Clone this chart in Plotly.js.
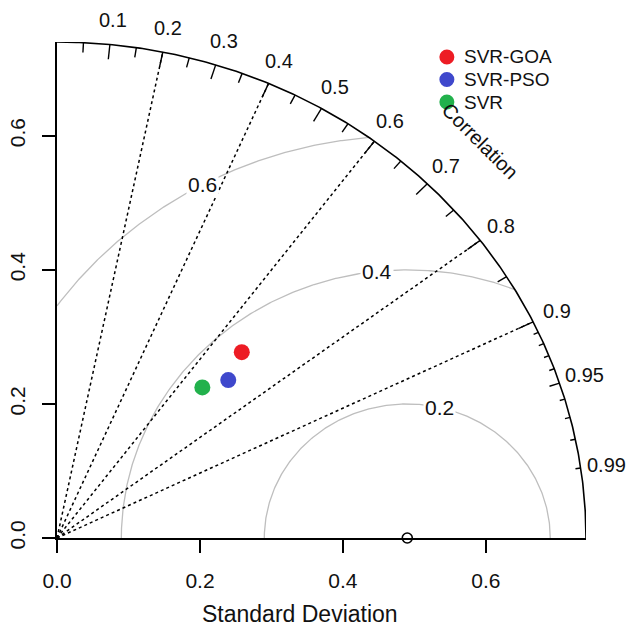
<!DOCTYPE html>
<html><head><meta charset="utf-8">
<script src="https://cdn.plot.ly/plotly-3.0.1.min.js"></script>
<style>html,body{margin:0;padding:0;background:#fff}</style>
</head><body><div id="chart" style="width:628px;height:628px"></div>
<script>
// ---- data ----
const models = ['SVR-GOA', 'SVR-PSO', 'SVR'];
const modelSD = [0.379, 0.336, 0.303];
const modelCorr = [0.682, 0.713, 0.671];
const modelColors = ['#ED1C24', '#3F48CC', '#22B14C'];
const refSD = 0.49;
const maxSD = 0.74;
const rmsLevels = [0.2, 0.4, 0.6];
const rmsLabelAngles = [77, 96, 118.5];
const corrLines = [0.2, 0.4, 0.6, 0.8, 0.9];
const corrLabels = [0.1, 0.2, 0.3, 0.4, 0.5, 0.6, 0.7, 0.8, 0.9, 0.95, 0.99];
const bigTicks = [0.1, 0.2, 0.3, 0.4, 0.5, 0.6, 0.7, 0.8, 0.9];
const medTicks = [0.05, 0.15, 0.25, 0.35, 0.45, 0.55, 0.65, 0.75, 0.85, 0.95];
const smlTicks = [0.91, 0.92, 0.93, 0.94, 0.96, 0.97, 0.98, 0.99];
const sdTicks = [0, 0.2, 0.4, 0.6];
const sdTickText = ['0.0', '0.2', '0.4', '0.6'];

const FONT = 'Arial, "Liberation Sans", sans-serif';
const TXT = '#111';
const traces = [];
const annotations = [];
const shapes = [];
// data -> paper (axes span [0, maxSD] on both)
const px = v => v / maxSD;

// RMS contours (gray arcs around the reference point)
rmsLevels.forEach((r, k) => {
  let th0 = 0;
  if (refSD + r > maxSD) {
    const xo = (maxSD * maxSD - r * r + refSD * refSD) / (2 * refSD);
    const yo = Math.sqrt(maxSD * maxSD - xo * xo);
    th0 = Math.atan2(yo, xo - refSD);
  }
  const th1 = (refSD - r >= 0) ? Math.PI : Math.acos(-refSD / r);
  const xs = [], ys = [];
  const n = 300;
  for (let i = 0; i <= n; i++) {
    const t = th0 + (th1 - th0) * i / n;
    xs.push(refSD + r * Math.cos(t));
    ys.push(r * Math.sin(t));
  }
  traces.push({x: xs, y: ys, mode: 'lines', line: {color: '#BEBEBE', width: 1.3}, hoverinfo: 'skip', showlegend: false});
  const a = rmsLabelAngles[k] * Math.PI / 180;
  annotations.push({x: px(refSD + r * Math.cos(a)), y: px(r * Math.sin(a)), xref: 'paper', yref: 'paper',
    xanchor: 'center', yanchor: 'middle', text: String(r),
    showarrow: false, bgcolor: '#ffffff', borderpad: 1, font: {size: 21, color: TXT, family: FONT}});
});

// dotted correlation lines
{
  const xs = [], ys = [];
  corrLines.forEach(c => { xs.push(0, maxSD * c, null); ys.push(0, maxSD * Math.sqrt(1 - c * c), null); });
  traces.push({x: xs, y: ys, mode: 'lines', line: {color: '#000', width: 1.5, dash: 'dot'}, hoverinfo: 'skip', showlegend: false});
}

// outer arc
{
  const xs = [], ys = [];
  for (let i = 0; i <= 300; i++) { const t = (Math.PI / 2) * i / 300; xs.push(maxSD * Math.cos(t)); ys.push(maxSD * Math.sin(t)); }
  traces.push({x: xs, y: ys, mode: 'lines', line: {color: '#000', width: 1.6}, hoverinfo: 'skip', showlegend: false});
}

// tick marks on outer arc
{
  const xs = [], ys = [];
  const add = (arr, f) => arr.forEach(c => {
    const s = Math.sqrt(1 - c * c);
    xs.push(maxSD * c, maxSD * f * c, null); ys.push(maxSD * s, maxSD * f * s, null);
  });
  add(bigTicks, 0.97); add(medTicks, 0.98); add(smlTicks, 0.99);
  traces.push({x: xs, y: ys, mode: 'lines', line: {color: '#000', width: 1.4}, hoverinfo: 'skip', showlegend: false});
}

// correlation labels
corrLabels.forEach(c => {
  const s = Math.sqrt(1 - c * c);
  annotations.push({x: px(1.05 * maxSD * c), y: px(1.05 * maxSD * s), xref: 'paper', yref: 'paper',
    xanchor: 'center', yanchor: 'middle', text: String(c),
    showarrow: false, font: {size: 20, color: TXT, family: FONT}});
});
annotations.push({x: px(0.8 * maxSD), y: px(0.8 * maxSD), xref: 'paper', yref: 'paper',
  xanchor: 'center', yanchor: 'middle', text: 'Correlation', textangle: 45,
  showarrow: false, font: {size: 20, color: TXT, family: FONT}});
annotations.push({x: 0.34 / maxSD, y: -0.153, xref: 'paper', yref: 'paper', text: 'Standard Deviation',
  xanchor: 'center', yanchor: 'middle',
  showarrow: false, font: {size: 23, color: TXT, family: FONT}});

// reference point
traces.push({x: [refSD], y: [0], mode: 'markers', marker: {symbol: 'circle-open', size: 10, color: '#000', line: {width: 1.6}},
  cliponaxis: false, hoverinfo: 'skip', showlegend: false});

// models
models.forEach((m, i) => {
  const c = modelCorr[i], sd = modelSD[i];
  traces.push({x: [sd * c], y: [sd * Math.sqrt(1 - c * c)], mode: 'markers', name: m,
    marker: {size: 16, color: modelColors[i]}, cliponaxis: false, showlegend: false});
});

// legend (top right): coloured dot + label per model
const legX = 0.737, legTextX = 0.765, legY0 = 0.9698, legStep = 0.0454;
models.forEach((m, i) => {
  const yy = legY0 - i * legStep;
  shapes.push({type: 'circle', xref: 'paper', yref: 'paper', xsizemode: 'pixel', ysizemode: 'pixel',
    xanchor: legX, yanchor: yy, x0: -7.5, x1: 7.5, y0: -7.5, y1: 7.5,
    fillcolor: modelColors[i], line: {width: 0}});
  annotations.push({x: legTextX, y: yy, xref: 'paper', yref: 'paper', xanchor: 'left', yanchor: 'middle',
    text: m, showarrow: false, font: {size: 19, color: TXT, family: FONT}});
});

const axisBase = {showgrid: false, zeroline: false, showline: true, linecolor: '#000', linewidth: 1.6,
  ticks: 'outside', ticklen: 13, tickwidth: 1.4, tickcolor: '#000', tickvals: sdTicks, ticktext: sdTickText,
  tickfont: {size: 21, color: TXT, family: FONT}, fixedrange: true, range: [0, maxSD]};

const layout = {
  width: 628, height: 628,
  margin: {l: 57, r: 42, t: 42, b: 90},
  paper_bgcolor: '#fff', plot_bgcolor: '#fff',
  xaxis: Object.assign({}, axisBase, {ticklabelstandoff: 10}),
  yaxis: Object.assign({}, axisBase, {tickangle: -90, ticklabelstandoff: 9}),
  showlegend: false,
  annotations: annotations,
  shapes: shapes,
  font: {family: FONT}
};

Plotly.newPlot('chart', traces, layout, {displayModeBar: false, staticPlot: true});
</script>
</body></html>
